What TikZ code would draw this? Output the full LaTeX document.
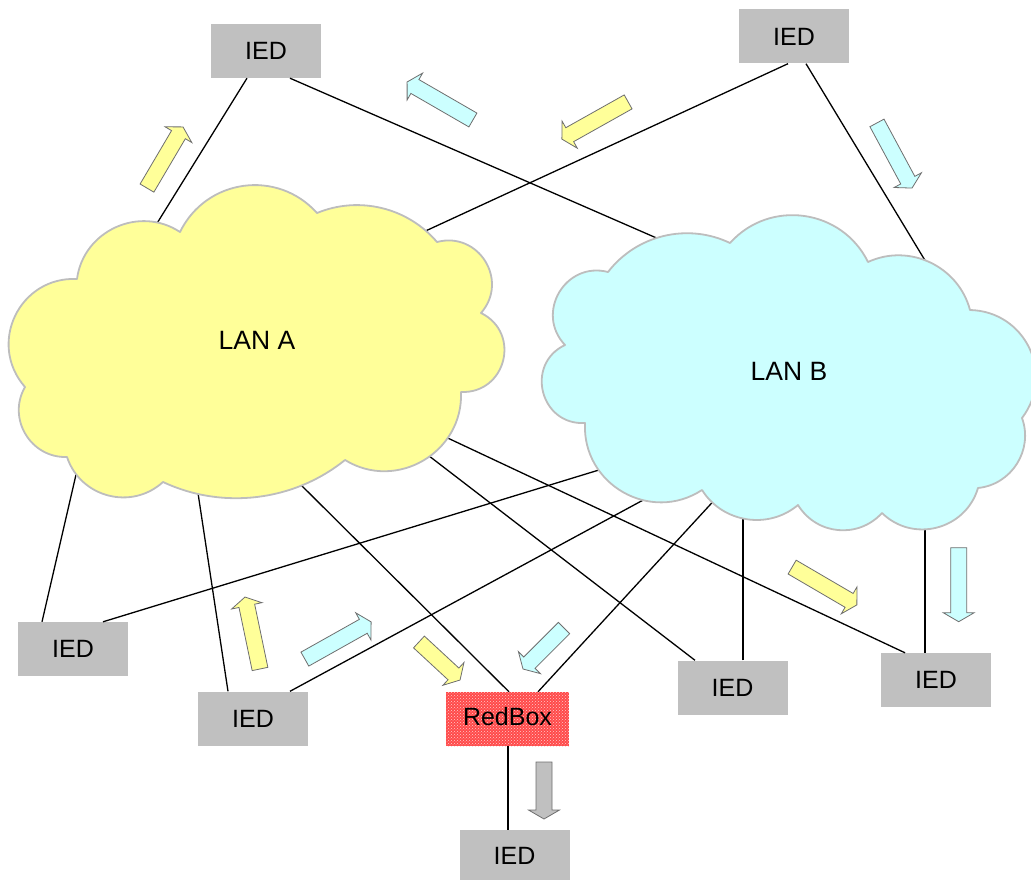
\documentclass[tikz,border=0pt]{standalone}
\usepackage{fontspec}
\setmainfont{Liberation Sans}
\usetikzlibrary{calc,patterns}

\definecolor{boxgray}{HTML}{C0C0C0}
\definecolor{lanyellow}{HTML}{FFFF99}
\definecolor{lancyan}{HTML}{CCFFFF}
\definecolor{cloudedge}{HTML}{BDBDBD}
\definecolor{arrowedge}{HTML}{6E6E6E}
\definecolor{redboxfill}{HTML}{FF4A4A}

\tikzset{
  device/.style={rectangle, fill=boxgray, inner sep=0pt,
    minimum width=110pt, minimum height=54pt,
    font=\fontsize{25}{28}\selectfont},
  lanlabel/.style={inner sep=0pt, font=\fontsize{26.5}{30}\selectfont},
  link/.style={draw=black, line width=1.3pt},
  cloudA/.style={fill=lanyellow, draw=cloudedge, line width=1.8pt, line join=round},
  cloudB/.style={fill=lancyan, draw=cloudedge, line width=1.8pt, line join=round},
  pics/blockarrow/.style args={#1/#2}{code={
    \filldraw[fill=#2, draw=arrowedge, line width=0.8pt, line join=miter]
      (-#1/2,-8) -- (#1/2-9,-8) -- (#1/2-9,-15.5) -- (#1/2,0)
      -- (#1/2-9,15.5) -- (#1/2-9,8) -- (-#1/2,8) -- cycle;
  }}
}

\begin{document}
\begin{tikzpicture}[x=1pt, y=-1pt]
\useasboundingbox (0,0) rectangle (1031,880);

% devices
\node[device] (ied1) at (266,51) {IED};
\node[device] (ied2) at (794,36.5) {IED};
\node[device] (ied3) at (73,649) {IED};
\node[device] (ied4) at (253,718.5) {IED};
\node[device] (ied5) at (732.5,687.5) {IED};
\node[device] (ied6) at (936,680) {IED};
\node[device, minimum height=52pt] (ied7) at (514.5,856) {IED};
\node[rectangle, inner sep=0pt, minimum width=123pt, minimum height=54pt,
      fill=redboxfill, postaction={pattern=crosshatch dots, pattern color=white!80!red}]
      (redbox) at (507.5,719) {};
\node[inner sep=0pt, font=\fontsize{25}{28}\selectfont] (redboxlabel)
      at (507.5,717) {RedBox};

% attachment points inside the two LAN clouds
\coordinate (a1) at (151,233);
\coordinate (a2) at (419,234);
\coordinate (a3) at (78,466);
\coordinate (a4) at (193,460);
\coordinate (a5) at (293,477);
\coordinate (a6) at (420,449);
\coordinate (a7) at (437,433);
\coordinate (b1) at (668,243);
\coordinate (b2) at (929,267);
\coordinate (b3) at (612,466);
\coordinate (b4) at (658,492);
\coordinate (b5) at (720,494);
\coordinate (b6) at (743,505);
\coordinate (b7) at (925,515);

% links
\draw[link] ($(ied1.south)+(-19,0)$) -- (a1);
\draw[link] ($(ied1.south)+(24,0)$) -- (b1);
\draw[link] ($(ied2.south)+(-6,0)$) -- (a2);
\draw[link] ($(ied2.south)+(12,0)$) -- (b2);
\draw[link] ($(ied3.north)+(-31,0)$) -- (a3);
\draw[link] ($(ied3.north)+(30,0)$) -- (b3);
\draw[link] ($(ied4.north)+(-25,0)$) -- (a4);
\draw[link] ($(ied4.north)+(37,0)$) -- (b4);
\draw[link] ($(redbox.north)+(1.5,0)$) -- (a5);
\draw[link] ($(redbox.north)+(30.5,0)$) -- (b5);
\draw[link] ($(ied5.north)+(-37.5,0)$) -- (a6);
\draw[link] ($(ied5.north)+(10.5,0)$) -- (b6);
\draw[link] ($(ied6.north)+(-31,0)$) -- (a7);
\draw[link] ($(ied6.north)+(-11,0)$) -- (b7);
\draw[link] ($(redbox.south)+(0.5,0)$) -- ($(ied7.north)+(-6.5,0)$);

% LAN A cloud
\path[cloudA] (77,279)
  to[bend left=58, looseness=1.1] (180,232)
  to[bend left=56, looseness=1.1] (317,213)
  to[bend left=36, looseness=0.94] (437,242)
  to[bend left=73, looseness=1.32] (481,313)
  to[bend left=78, looseness=1.42] (461,392)
  to[bend left=62, looseness=1.15] (345,460)
  to[bend left=32, looseness=0.92] (163,482)
  to[bend left=57, looseness=1.1] (67,457)
  to[bend left=61, looseness=1.14] (25,387)
  to[bend left=67, looseness=1.23] (77,279) -- cycle;

% LAN B cloud
\path[cloudB] (565,345)
  to[bend left=74, looseness=1.33] (608,272)
  to[bend left=39, looseness=0.96] (730,243)
  to[bend left=56, looseness=1.09] (868,262)
  to[bend left=50, looseness=1.03] (970,310)
  to[bend left=63, looseness=1.18] (1022,418)
  to[bend left=52, looseness=1.05] (978,488)
  to[bend left=59, looseness=1.12] (882,513)
  to[bend left=53, looseness=1.07] (798,505)
  to[bend left=49, looseness=1.02] (702,490)
  to[bend left=63, looseness=1.17] (585,423)
  to[bend left=79, looseness=1.42] (565,345) -- cycle;

\node[lanlabel] (lanA) at (257,340) {LAN A};
\node[lanlabel] (lanB) at (789,371) {LAN B};

% traffic direction arrows
\pic[rotate=59.5]  at (165,157.5) {blockarrow=71/lanyellow};
\pic[rotate=150]   at (440,101)   {blockarrow=76/lancyan};
\pic[rotate=209.3] at (595,120.5) {blockarrow=76/lanyellow};
\pic[rotate=-61.7] at (894.5,155.5) {blockarrow=74/lancyan};
\pic[rotate=101.8] at (252.5,633) {blockarrow=73.5/lanyellow};
\pic[rotate=29.3]  at (338,640.5) {blockarrow=76/lancyan};
\pic[rotate=-42.8] at (439.5,661) {blockarrow=56/lanyellow};
\pic[rotate=-135]  at (543.5,648.5) {blockarrow=58/lancyan};
\pic[rotate=-30.3] at (824.5,586) {blockarrow=75/lanyellow};
\pic[rotate=-90]   at (958.7,584.7) {blockarrow=74/lancyan};
\pic[rotate=-90]   at (544,790.5) {blockarrow=57/boxgray};
\end{tikzpicture}
\end{document}
